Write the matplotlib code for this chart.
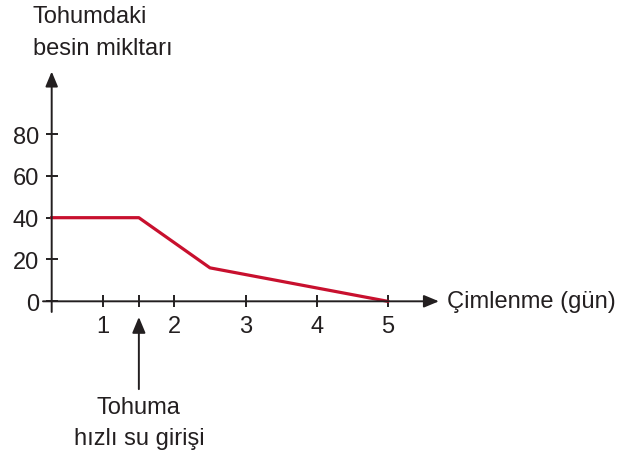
import matplotlib
matplotlib.use("Agg")
import matplotlib.pyplot as plt

plt.rcParams['font.family'] = ['Liberation Sans', 'DejaVu Sans']

# data
gun = [0.274, 1.5, 2.5, 5]
besin = [40, 40, 16, 0]
x_ticks = [1, 1.5, 2, 3, 4, 5]
x_labels = ['1', '', '2', '3', '4', '5']
y_ticks = [0, 20, 40, 60, 80]
su_girisi = 1.5

koyu = '#231f20'
kirmizi = '#c8102e'
fs = 17

fig = plt.figure(figsize=(6.39, 4.52), dpi=100)
ax = fig.add_axes([0, 0, 1, 1])
ax.set_xlim(-0.453, 8.534)
ax.set_ylim(-71.6, 144.6)

x0 = gun[0]
ax.spines['left'].set_position(('data', x0))
ax.spines['bottom'].set_position(('data', 0))
for s in ax.spines.values():
    s.set_visible(False)

ok = dict(arrowstyle='-|>,head_length=0.6,head_width=0.25', color=koyu,
          lw=1.4, mutation_scale=15, shrinkA=0, shrinkB=0)
ax.annotate('', xy=(5.72, 0), xytext=(0.152, 0), arrowprops=ok)
ax.annotate('', xy=(x0, 109.9), xytext=(x0, -5.1), arrowprops=ok)

ax.set_xticks(x_ticks)
ax.set_xticklabels(x_labels)
ax.set_yticks(y_ticks)
ax.tick_params(direction='inout', length=8, width=1.4, color=koyu,
               labelsize=fs, labelcolor=koyu)
ax.tick_params(axis='x', pad=6)
ax.tick_params(axis='y', pad=5)

ax.plot(gun, besin, color=kirmizi, lw=2.3)

ax.text(0.011, 141.5, 'Tohumdaki\nbesin mikltarı', fontsize=fs, color=koyu,
        ha='left', va='top', linespacing=1.55)
ax.text(5.834, 0, 'Çimlenme (gün)', fontsize=fs, color=koyu,
        ha='left', va='center')

ax.annotate('', xy=(su_girisi, -7.5), xytext=(su_girisi, -42),
            arrowprops=dict(ok, mutation_scale=16))
ax.text(su_girisi, -58, 'Tohuma\nhızlı su girişi', fontsize=fs, color=koyu,
        ha='center', va='center', linespacing=1.55)

fig.savefig('out.png', dpi=100)
